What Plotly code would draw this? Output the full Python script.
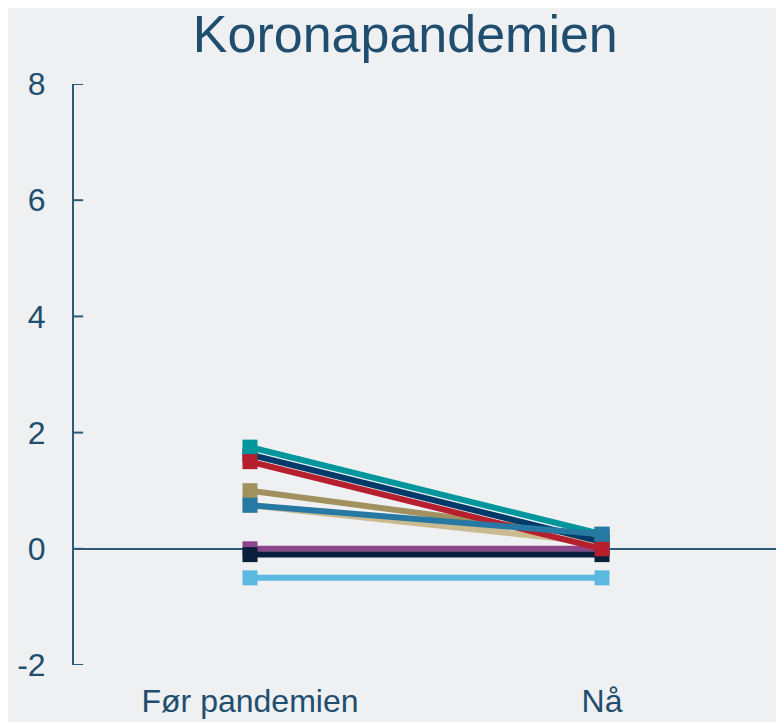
import plotly.graph_objects as go

# Data
categories = ["Før pandemien", "Nå"]

# drawn in this order (later ones end up on top)
series_names = ["lys blå", "lilla", "mørk marine", "lys beige", "khaki",
                "marine", "turkis", "rød", "blå"]
before = [-0.5, 0.0, -0.1, 0.75, 1.0, 1.62, 1.75, 1.5, 0.75]
now = [-0.5, 0.0, -0.1, 0.1, 0.2, 0.12, 0.25, 0.0, 0.25]
colors = ["#5BB8E1", "#8B4589", "#08203C", "#C9BA8F", "#A0915F",
          "#003A6A", "#00969B", "#B51F2E", "#2679A2"]

y_ticks = [-2, 0, 2, 4, 6, 8]
y_tick_labels = ["-2", "0", "2", "4", "6", "8"]

text_color = "#1F4E6E"
axis_color = "#2E5A7A"
bg = "#EEF0F2"

fig = go.Figure()

for name, b, n, c in zip(series_names, before, now, colors):
    fig.add_trace(go.Scatter(
        x=categories, y=[b, n],
        mode="lines+markers", name=name,
        line=dict(color=c, width=6),
        marker=dict(symbol="square", size=15, color=c),
        showlegend=False
    ))

# short tick marks on the inner side of the y axis
for t in y_ticks:
    fig.add_shape(type="line", xref="paper", yref="y",
                  x0=0, x1=0.013, y0=t, y1=t, layer="below",
                  line=dict(color=axis_color, width=2))

# small end tick on the right of the zero line
fig.add_shape(type="line", xref="paper", yref="y",
              x0=1, x1=1, y0=0, y1=0.12,
              line=dict(color=axis_color, width=2))

# page body has an 8px margin, so the figure is a bit smaller than the window
fig.update_layout(
    width=776, height=714,
    margin=dict(l=66, r=6, t=76, b=57, autoexpand=False),
    paper_bgcolor=bg, plot_bgcolor=bg,
    font=dict(family="Liberation Sans, Arial, sans-serif", color=text_color, size=32),
    title=dict(text="Koronapandemien", x=0.512, xanchor="center",
               y=0.964, yanchor="middle",
               font=dict(size=52, color=text_color)),
    xaxis=dict(
        type="category", range=[-0.5, 1.5], automargin=False,
        showgrid=False, showline=False, zeroline=False,
        ticks="", ticklabelstandoff=14,
        tickfont=dict(size=32, color=text_color)
    ),
    yaxis=dict(
        range=[-2, 8], tickvals=y_ticks, ticktext=y_tick_labels,
        automargin=False, showgrid=False,
        showline=True, linecolor=axis_color, linewidth=2,
        ticks="", ticklabelstandoff=20,
        zeroline=True, zerolinecolor=axis_color, zerolinewidth=2,
        tickfont=dict(size=32, color=text_color)
    ),
)

fig.write_html("out.html")
